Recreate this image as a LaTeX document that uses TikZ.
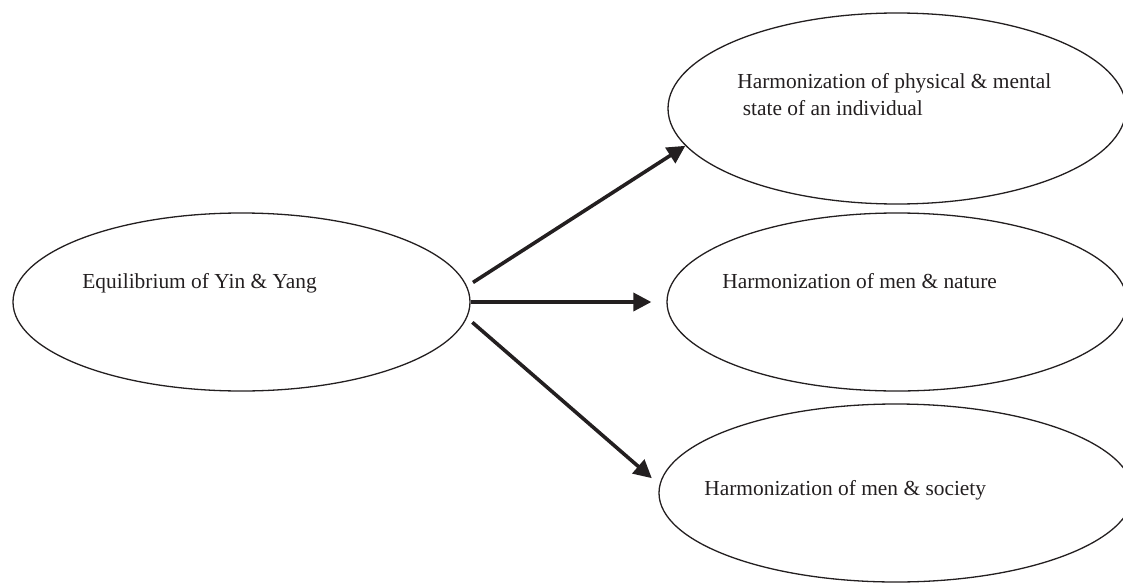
\documentclass[tikz,border=0pt]{standalone}
\usepackage{fontspec}
\setmainfont{Liberation Serif}
\usetikzlibrary{shapes.geometric,arrows.meta}
\definecolor{ink}{HTML}{231F20}

\begin{document}
\begin{tikzpicture}[x=0.5pt,y=-0.5pt,
    bubble/.style={ellipse,draw=ink,line width=0.65pt,inner sep=0pt,minimum width=229pt,minimum height=89pt},
    txt/.style={anchor=base west,inner sep=0pt,text=ink,font=\fontsize{10.7}{13.5}\selectfont},
    arr/.style={-{Triangle[length=9pt,width=9pt]},line width=1.8pt,draw=ink}]
    \useasboundingbox (0,0) rectangle (1123,583);
    \node[bubble,minimum width=228.5pt] (yy) at (241.5,302) {};
    \node[bubble,minimum height=95.5pt] (phys) at (897,108.5) {};
    \node[bubble,minimum width=230pt] (nat) at (897,302) {};
    \node[bubble,minimum width=237pt] (soc) at (896,493) {};
    \node[txt] (yytxt) at (82,288) {Equilibrium of Yin \& Yang};
    \node[txt,anchor=north west,align=left] (phystxt) at (737,73.5) {Harmonization of physical \& mental\\\hspace*{2.7pt}state of an individual};
    \node[txt] (nattxt) at (722,288) {Harmonization of men \& nature};
    \node[txt] (soctxt) at (704,495) {Harmonization of men \& society};
    \draw[arr,shorten <=3.5pt] (yy.4.7) -- (phys.190.3);
    \draw[arr,shorten >=7.5pt] (yy.east) -- (nat.west);
    \draw[arr,shorten <=3.5pt,shorten >=5pt] (yy.-4.4) -- (soc.178.4);
\end{tikzpicture}
\end{document}
